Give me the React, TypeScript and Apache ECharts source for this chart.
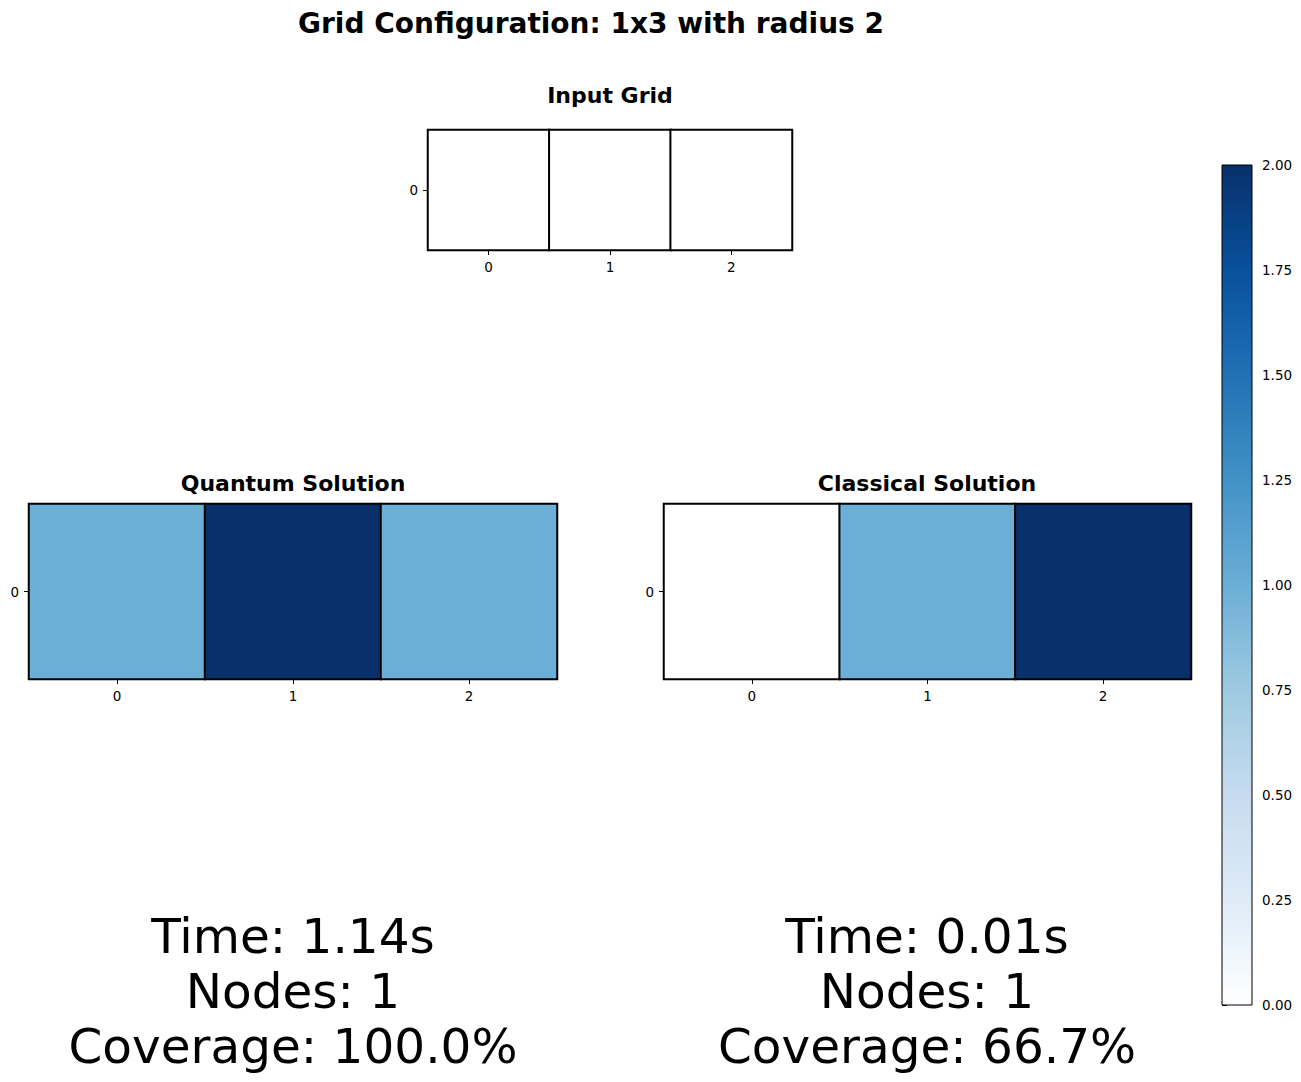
import React, { useEffect, useRef } from "react";
import * as echarts from "echarts";

const mainTitle = "Grid Configuration: 1x3 with radius 2";
const xCategories = ["0", "1", "2"];
const yCategories = ["0"];
const inputValues = [0, 0, 0];
const quantumValues = [1, 2, 1];
const classicalValues = [0, 1, 2];
const panelTitles = ["Input Grid", "Quantum Solution", "Classical Solution"];
const quantumStats = ["Time: 1.14s", "Nodes: 1", "Coverage: 100.0%"];
const classicalStats = ["Time: 0.01s", "Nodes: 1", "Coverage: 66.7%"];
const colorMin = 0;
const colorMax = 2;
const colorInterval = 0.25;
const blues = ["#ffffff", "#deebf7", "#c6dbef", "#9ecae1", "#6baed6", "#4292c6", "#2171b5", "#08519c", "#08306b"];

const FONT = "DejaVu Sans";

const toCells = (vals: number[]) => vals.map((v, i) => [i, 0, v]);

export default function App() {
  const ref = useRef<HTMLDivElement>(null);
  useEffect(() => {
    if (!ref.current) return;
    const chart = echarts.init(ref.current, null, { renderer: "svg" });
    const grids = [
      { left: 428, top: 130, width: 364, height: 120 },
      { left: 29, top: 504, width: 528, height: 175 },
      { left: 664, top: 504, width: 527, height: 175 },
      { left: 1222, top: 165, width: 30, height: 840 },
    ];
    const axisText = { color: "#000", fontFamily: FONT, fontSize: 13.5 };
    const xAxes: any[] = [0, 1, 2].map((g) => ({
      type: "category",
      gridIndex: g,
      data: xCategories,
      axisLine: { show: false },
      axisTick: { show: true, alignWithLabel: true, length: 5, lineStyle: { color: "#000", width: 1 } },
      axisLabel: { ...axisText, margin: 10 },
      splitLine: { show: false },
    }));
    xAxes.push({ type: "value", gridIndex: 3, show: false, min: 0, max: 1 });
    const yAxes: any[] = [0, 1, 2].map((g) => ({
      type: "category",
      gridIndex: g,
      data: yCategories,
      axisLine: { show: false },
      axisTick: { show: true, alignWithLabel: true, length: 5, lineStyle: { color: "#000", width: 1 } },
      axisLabel: { ...axisText, margin: 10 },
      splitLine: { show: false },
    }));
    yAxes.push({
      type: "value",
      gridIndex: 3,
      position: "right",
      min: colorMin,
      max: colorMax,
      interval: colorInterval,
      axisLine: { show: false },
      axisTick: { show: true, length: 5, lineStyle: { color: "#000", width: 1 } },
      axisLabel: { ...axisText, margin: 10, formatter: (v: number) => v.toFixed(2) },
      splitLine: { show: false },
    });
    const heat = (idx: number, vals: number[]) => ({
      type: "heatmap",
      xAxisIndex: idx,
      yAxisIndex: idx,
      data: toCells(vals),
      itemStyle: { borderColor: "#000", borderWidth: 2 },
      emphasis: { disabled: true },
      label: { show: false },
    });
    const titleText = (text: string, x: number, y: number) => ({
      type: "text",
      x,
      y,
      style: {
        text,
        fill: "#000",
        font: `bold 22px "${FONT}"`,
        textAlign: "center",
        textVerticalAlign: "middle",
      },
    });
    const statText = (lines: string[], x: number) => ({
      type: "text",
      x,
      y: 991,
      style: {
        text: lines.join("\n"),
        fill: "#000",
        font: `48.5px "${FONT}"`,
        lineHeight: 55,
        textAlign: "center",
        textVerticalAlign: "middle",
      },
    });
    chart.setOption({
      animation: false,
      backgroundColor: "#fff",
      grid: grids.map((g) => ({ ...g, containLabel: false })),
      xAxis: xAxes,
      yAxis: yAxes,
      visualMap: {
        type: "continuous",
        show: false,
        min: colorMin,
        max: colorMax,
        seriesIndex: [0, 1, 2],
        inRange: { color: blues },
      },
      series: [
        heat(0, inputValues),
        heat(1, quantumValues),
        heat(2, classicalValues),
        { type: "scatter", xAxisIndex: 3, yAxisIndex: 3, data: [] },
      ],
      graphic: [
        {
          type: "text",
          x: 591,
          y: 23,
          style: {
            text: mainTitle,
            fill: "#000",
            font: `bold 28px "${FONT}"`,
            textAlign: "center",
            textVerticalAlign: "middle",
          },
        },
        titleText(panelTitles[0], 610, 95),
        titleText(panelTitles[1], 293, 483),
        titleText(panelTitles[2], 927, 483),
        {
          type: "rect",
          shape: { x: 1222, y: 165, width: 30, height: 840 },
          style: {
            fill: new echarts.graphic.LinearGradient(
              0, 1, 0, 0,
              blues.map((c, i) => ({ offset: i / (blues.length - 1), color: c }))
            ),
            stroke: "#000",
            lineWidth: 1,
          },
          z: 10,
        },
        statText(quantumStats, 293),
        statText(classicalStats, 927),
      ],
    });
    return () => chart.dispose();
  }, []);
  return (
    <div
      ref={ref}
      style={{ position: "fixed", left: 0, top: 0, width: 1301, height: 1082, background: "#fff" }}
    />
  );
}
